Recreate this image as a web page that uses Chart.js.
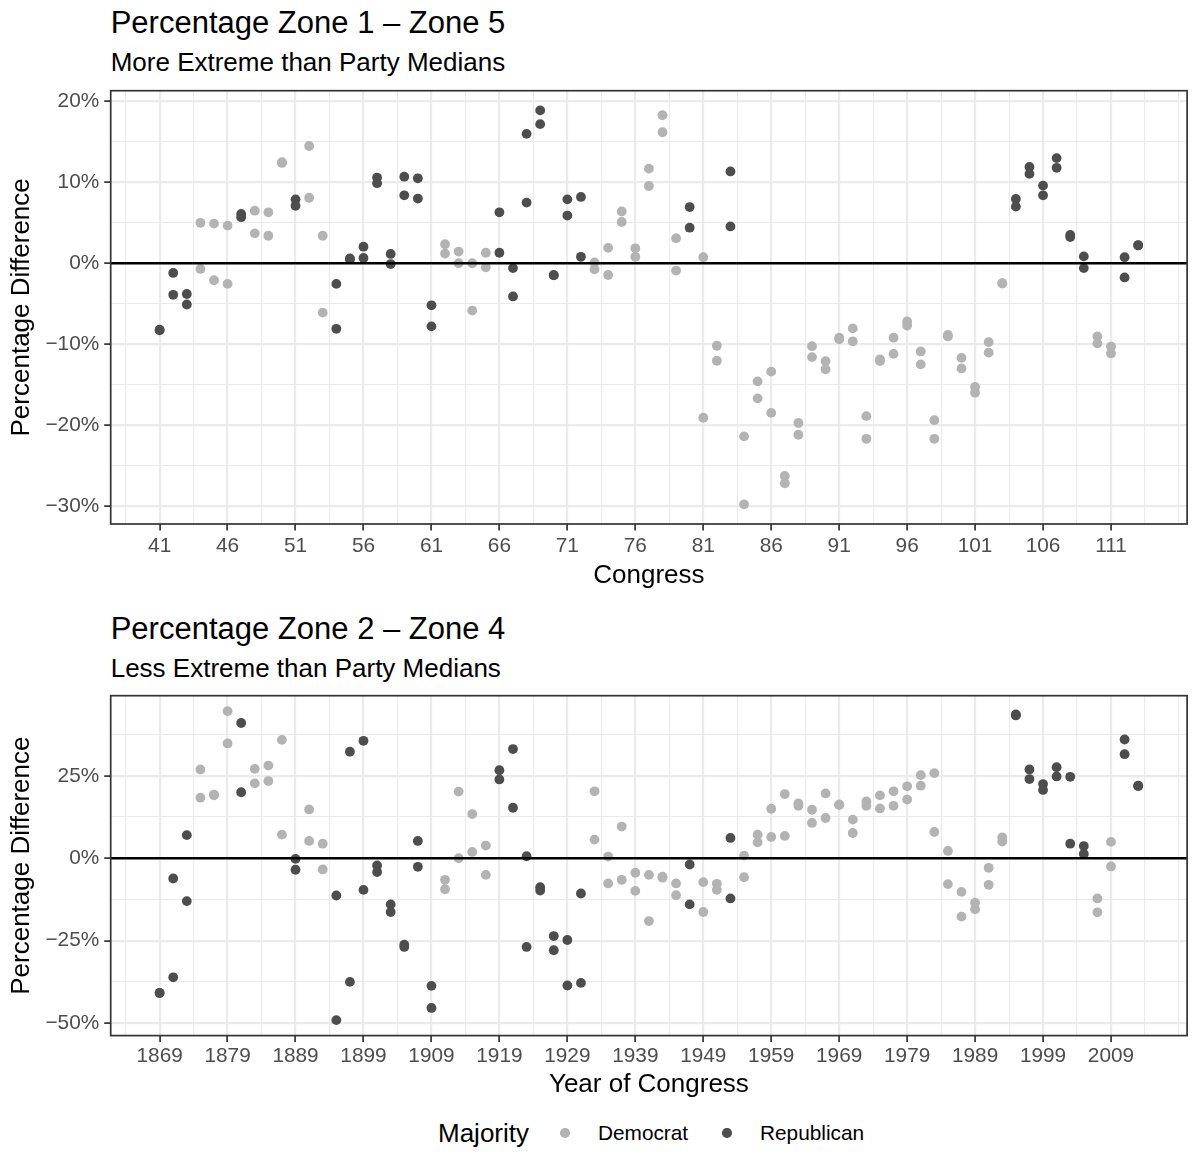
<!DOCTYPE html>
<html>
<head>
<meta charset="utf-8">
<script src="https://cdn.jsdelivr.net/npm/chart.js@4.4.1/dist/chart.umd.min.js"></script>
<style>
  html, body { margin: 0; padding: 0; background: #fff; }
  body { width: 1192px; height: 1175px; position: relative; overflow: hidden;
         font-family: "Liberation Sans", Arial, Helvetica, sans-serif; }
  .txt { position: absolute; white-space: nowrap; line-height: 1; color: #000; }
  .title { font-size: 31px; }
  .sub { font-size: 26px; }
  .lab { font-size: 20.8px; }
  .key { position: absolute; width: 9.5px; height: 9.5px; border-radius: 50%; }
  canvas { position: absolute; left: 0; }
</style>
</head>
<body>
<div class="txt title" style="left:110.7px; top:6.8px">Percentage Zone 1 – Zone 5</div>
<div class="txt sub" style="left:110.7px; top:49px">More Extreme than Party Medians</div>
<canvas id="top" width="1192" height="600" style="top:0"></canvas>

<div class="txt title" style="left:110.7px; top:612.8px">Percentage Zone 2 – Zone 4</div>
<div class="txt sub" style="left:110.7px; top:655px">Less Extreme than Party Medians</div>
<canvas id="bottom" width="1192" height="510" style="top:600px"></canvas>

<div class="txt sub" style="left:438px; top:1120px">Majority</div>
<div class="key" style="left:560.2px; top:1128.2px; background:#B3B3B3"></div>
<div class="txt lab" style="left:598px; top:1123px">Democrat</div>
<div class="key" style="left:722.2px; top:1128.2px; background:#4D4D4D"></div>
<div class="txt lab" style="left:760px; top:1123px">Republican</div>

<script>
// === Dados ===
const congress = [41, 42, 43, 44, 45, 46, 47, 48, 49, 50,
  51, 52, 53, 54, 55, 56, 57, 58, 59, 60,
  61, 62, 63, 64, 65, 66, 67, 68, 69, 70,
  71, 72, 73, 74, 75, 76, 77, 78, 79, 80,
  81, 82, 83, 84, 85, 86, 87, 88, 89, 90,
  91, 92, 93, 94, 95, 96, 97, 98, 99, 100,
  101, 102, 103, 104, 105, 106, 107, 108, 109, 110,
  111, 112, 113];

// D = Democrat, R = Republican (one letter per congress)
const majority = ('RRRDDDRDDDRDDRRRRRRRRDDDDRRRRRRRDDDDDDDRDDR' +
  'DDDDDDDDDDDDDDDDDDDD' + 'RRRRRR' + 'DD' + 'RR').split('');

// Zone 1 - Zone 5, two values per congress
const zone15A = [-8.2, -1.2, -3.8, 5.0, 4.9, 4.65, 6.1, 6.5, 6.3, 12.5,
  7.9, 14.5, 3.4, -2.55, 0.6, 2.05, 10.6, 1.15, 10.7, 10.5,
  -5.2, 2.35, 1.45, 0.0, 1.3, 6.3, -0.6, 16.0, 18.9, -1.5,
  7.9, 8.2, 0.1, 1.9, 6.4, 1.85, 11.7, 18.3, 3.1, 6.95,
  0.75, -10.2, 11.35, -21.4, -14.6, -13.4, -26.3, -19.75, -10.25, -12.1,
  -9.2, -8.05, -18.9, -11.9, -9.2, -7.2, -10.9, -19.4, -8.85, -11.7,
  -15.3, -9.75, -2.45, 7.95, 11.9, 9.6, 13.0, 3.5, 0.85, -9.05,
  -10.3, 0.75, 2.2];
const zone15B = [-8.3, -3.9, -5.1, -0.7, -2.1, -2.55, 5.7, 3.7, 3.4, 12.4,
  7.1, 8.1, -6.1, -8.1, 0.5, 0.65, 9.9, -0.1, 8.4, 8.0,
  -7.8, 1.2, 0.0, -5.85, -0.5, 1.3, -4.1, 7.5, 17.2, -1.45,
  5.9, 0.8, -0.75, -1.45, 5.1, 0.8, 9.55, 16.2, -0.9, 4.4,
  -19.1, -12.05, 4.55, -29.8, -16.7, -18.5, -27.2, -21.2, -11.6, -13.1,
  -9.4, -9.65, -21.7, -12.1, -11.2, -7.7, -12.5, -21.7, -9.05, -13.0,
  -16.0, -11.05, -2.5, 7.0, 11.05, 8.4, 11.8, 3.25, -0.6, -9.9,
  -11.15, -1.75, 2.25];

// Zone 2 - Zone 4, two values per congress
const zone24A = [-40.8, -6.15, 7.0, 26.9, 19.3, 44.6, 41.0, 27.1, 28.1, 35.9,
  -0.2, 14.8, 4.4, -11.3, 32.3, 35.6, -2.2, -14.0, -26.2, 5.25,
  -38.7, -6.55, 20.2, 13.4, 3.85, 26.7, 33.1, 0.6, -8.8, -23.6,
  -24.8, -10.7, 20.3, 0.5, 9.6, -4.4, -5.05, -5.6, -7.65, -1.9,
  -7.25, -7.75, 6.15, 0.8, 7.15, 15.0, 19.45, 16.6, 14.7, 19.65,
  16.3, 11.7, 17.2, 19.05, 20.3, 21.8, 25.2, 25.8, 2.2, -10.2,
  -13.5, -2.9, 6.35, 43.6, 26.9, 22.5, 27.6, 24.7, 3.7, -12.2,
  4.95, 36.0, 22.0];
const zone24B = [-40.9, -36.1, -13.0, 18.35, 19.1, 34.8, 20.0, 22.7, 23.4, 7.15,
  -3.5, 5.25, -3.4, -49.1, -37.5, -9.6, -4.2, -16.3, -26.9, -2.6,
  -45.4, -9.4, 0.0, 1.9, -5.05, 23.9, 15.3, -26.9, -9.8, -27.9,
  -38.6, -37.8, 5.65, -7.65, -6.55, -9.9, -19.05, -5.9, -11.2, -14.0,
  -16.3, -9.6, -12.2, -5.75, 4.85, 6.45, 6.75, 15.9, 10.7, 12.2,
  16.1, 7.65, 15.9, 15.1, 15.9, 17.8, 22.0, 7.95, -7.85, -17.7,
  -15.5, -8.05, 5.05, 43.3, 24.0, 20.7, 24.8, 4.4, 1.3, -16.4,
  -2.5, 31.55, 21.9];

const congressTicks = [41, 46, 51, 56, 61, 66, 71, 76, 81, 86, 91, 96, 101, 106, 111];
const yearTicks = [1869, 1879, 1889, 1899, 1909, 1919, 1929, 1939, 1949, 1959, 1969, 1979, 1989, 1999, 2009];
const pctTicksTop = [-30, -20, -10, 0, 10, 20];
const pctTicksBottom = [-50, -25, 0, 25];

const years = congress.map(c => 1789 + 2 * (c - 1));

// === Estilo ===
const FONT = '"Liberation Sans", Arial, Helvetica, sans-serif';
const DEM = '#B3B3B3';
const REP = '#4D4D4D';

function expand(values) {
  const lo = Math.min(...values), hi = Math.max(...values);
  const pad = (hi - lo) * 0.05;
  return [lo - pad, hi + pad];
}

// major + minor grid positions, like ggplot
function gridLines(major, lo, hi) {
  const step = major[1] - major[0];
  const ext = [major[0] - step, ...major, major[major.length - 1] + step];
  const lines = [];
  for (let i = 0; i < ext.length; i++) {
    lines.push(ext[i]);
    if (i < ext.length - 1) lines.push((ext[i] + ext[i + 1]) / 2);
  }
  return lines.filter(v => v >= lo && v <= hi);
}

function axis({major, range, fmt, title, position, size, titlePad, tickPad}) {
  const isMajor = v => major.some(m => Math.abs(m - v) < 1e-6);
  const lines = gridLines(major, range[0], range[1]);
  return {
    type: 'linear', position, min: range[0], max: range[1],
    afterBuildTicks: s => { s.ticks = lines.map(v => ({value: v})); },
    afterFit: s => { if (position === 'left') s.width = size; else s.height = size; },
    grid: {
      color: '#EBEBEB',
      lineWidth: c => isMajor(c.tick.value) ? 2.2 : 1.1,
      drawTicks: true,
      tickLength: 6.5,
      tickWidth: 1.7,
      tickColor: c => isMajor(c.tick.value) ? '#333333' : 'rgba(0,0,0,0)'
    },
    border: {display: false},
    ticks: {
      autoSkip: false, maxRotation: 0, minRotation: 0,
      padding: tickPad, color: '#4D4D4D',
      font: {family: FONT, size: 20.8},
      callback: v => isMajor(v) ? fmt(v) : ''
    },
    title: {display: true, text: title, color: '#000',
            font: {family: FONT, size: 26}, padding: titlePad}
  };
}

const pct = v => (v < 0 ? '\u2212' + Math.abs(v) : v) + '%';

const frame = {
  id: 'frame',
  afterDatasetsDraw(chart) {
    const {ctx, chartArea: a, scales} = chart;
    const y0 = scales.y.getPixelForValue(0);
    ctx.save();
    ctx.strokeStyle = '#000';
    ctx.lineWidth = 2.3;
    ctx.beginPath();
    ctx.moveTo(a.left, y0);
    ctx.lineTo(a.right, y0);
    ctx.stroke();
    ctx.strokeStyle = '#333333';
    ctx.lineWidth = 1.7;
    ctx.strokeRect(a.left, a.top, a.right - a.left, a.bottom - a.top);
    ctx.restore();
  }
};

function panel(id, xs, A, B, xOpts, yOpts, padTop) {
  const dem = [], rep = [];
  xs.forEach((x, i) => {
    const target = majority[i] === 'D' ? dem : rep;
    target.push({x, y: A[i]}, {x, y: B[i]});
  });
  const point = color => ({
    backgroundColor: color, borderWidth: 0, pointRadius: 4.9, pointHoverRadius: 4.9
  });
  return new Chart(document.getElementById(id), {
    type: 'scatter',
    data: {
      datasets: [
        {label: 'Democrat', data: dem, ...point(DEM)},
        {label: 'Republican', data: rep, ...point(REP)}
      ]
    },
    options: {
      responsive: false, animation: false, devicePixelRatio: 1,
      layout: {padding: {top: padTop, left: 0, right: 0, bottom: 0}},
      plugins: {legend: {display: false}, tooltip: {enabled: false}},
      scales: {x: axis(xOpts), y: axis(yOpts)}
    },
    plugins: [frame]
  });
}

panel('top', congress, zone15A, zone15B,
  {major: congressTicks, range: expand(congress), fmt: v => String(v), title: 'Congress',
   position: 'bottom', size: 76, titlePad: {top: 0, bottom: 8.7}, tickPad: 3.5},
  {major: pctTicksTop, range: expand(zone15A.concat(zone15B)), fmt: pct, title: 'Percentage Difference',
   position: 'left', size: 110.7, titlePad: {top: 6, bottom: 0}, tickPad: 5},
  90.7);

panel('bottom', years, zone24A, zone24B,
  {major: yearTicks, range: expand(years), fmt: v => String(v), title: 'Year of Congress',
   position: 'bottom', size: 74.4, titlePad: {top: 0, bottom: 9.1}, tickPad: 1.5},
  {major: pctTicksBottom, range: expand(zone24A.concat(zone24B)), fmt: pct, title: 'Percentage Difference',
   position: 'left', size: 110.7, titlePad: {top: 6, bottom: 0}, tickPad: 5},
  95.7);
</script>
</body>
</html>
